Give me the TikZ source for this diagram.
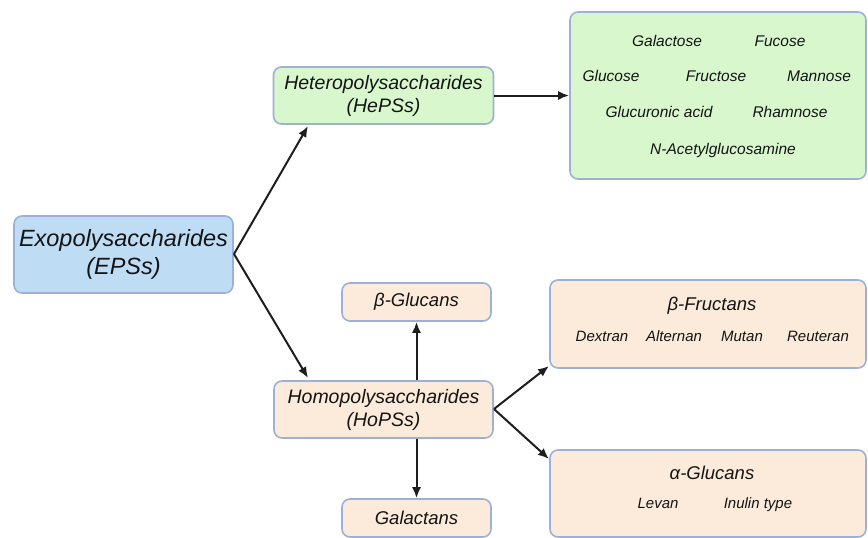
\documentclass[tikz,border=0pt]{standalone}
\usepackage{fontspec}
\setmainfont{Liberation Sans}
\usetikzlibrary{arrows.meta}
\definecolor{bluefill}{HTML}{BEDDF4}
\definecolor{greenfill}{HTML}{D8F7CD}
\definecolor{peachfill}{HTML}{FCEBDA}
\definecolor{edgecol}{HTML}{9DB1D8}
\definecolor{arrowcol}{HTML}{1E1E1E}
\definecolor{txtcol}{HTML}{141414}
\begin{document}
\begin{tikzpicture}[x=1pt,y=-1pt,
  box/.style={draw=edgecol,line width=1.6pt,rounded corners=8pt,inner sep=0pt,align=center,font=\itshape,text=txtcol},
  lbl/.style={inner sep=0pt,anchor=base,text=txtcol,font=\itshape\fontsize{15.5}{18}\selectfont},
  lblb/.style={lbl,font=\itshape\fontsize{15}{18}\selectfont},
  ttl/.style={inner sep=0pt,anchor=base,text=txtcol,font=\itshape\fontsize{18.5}{22}\selectfont},
  conn/.style={draw=arrowcol,line width=2pt,-{Latex[length=11pt,width=9pt]}}]
\useasboundingbox (0,0) rectangle (868,538);
% main nodes
\node[box,fill=bluefill,minimum width=219pt,minimum height=77pt,font=\itshape\fontsize{23.5}{28}\selectfont] (eps) at (123.5,254.5) {Exopolysaccharides\\(EPSs)};
\node[box,fill=greenfill,minimum width=220pt,minimum height=57pt,font=\itshape\fontsize{19.5}{23}\selectfont] (heps) at (383.5,95.5) {Heteropolysaccharides\\(HePSs)};
\node[box,fill=greenfill,minimum width=296pt,minimum height=167pt] (sugars) at (718,95.5) {};
\node[box,fill=peachfill,minimum width=219pt,minimum height=57pt,font=\itshape\fontsize{19.5}{23}\selectfont] (hops) at (383.5,409.5) {Homopolysaccharides\\(HoPSs)};
\node[box,fill=peachfill,minimum width=149pt,minimum height=38pt,font=\itshape\fontsize{18.5}{22}\selectfont] (bglu) at (416.5,302) {β-Glucans};
\node[box,fill=peachfill,minimum width=149pt,minimum height=38pt,font=\itshape\fontsize{18.5}{22}\selectfont] (gal) at (416.5,518) {Galactans};
\node[box,fill=peachfill,minimum width=316pt,minimum height=88pt] (bfru) at (708,324) {};
\node[box,fill=peachfill,minimum width=316pt,minimum height=87pt] (aglu) at (708,493.5) {};
% sugar labels
\node[lbl] (s1) at (667,46.5) {Galactose};
\node[lbl] (s2) at (780,46.5) {Fucose};
\node[lbl] (s3) at (611,81.5) {Glucose};
\node[lbl] (s4) at (716,81.5) {Fructose};
\node[lbl] (s5) at (819,81.5) {Mannose};
\node[lbl] (s6) at (659,117.5) {Glucuronic acid};
\node[lbl] (s7) at (790,117.5) {Rhamnose};
\node[lbl] (s8) at (723,154.5) {N-Acetylglucosamine};
% fructans
\node[ttl] (bt) at (712,310.5) {β-Fructans};
\node[lblb] (f1) at (602,341.5) {Dextran};
\node[lblb] (f2) at (674,341.5) {Alternan};
\node[lblb] (f3) at (742,341.5) {Mutan};
\node[lblb] (f4) at (818,341.5) {Reuteran};
% alpha glucans
\node[ttl] (at) at (712,479.5) {α-Glucans};
\node[lblb] (g1) at (658,508.5) {Levan};
\node[lblb] (g2) at (758,508.5) {Inulin type};
% connectors
\coordinate (epsr) at (234,254);
\draw[conn] (epsr) -- (308,126);
\draw[conn] (epsr) -- (308,378);
\draw[conn] (heps.east) -- (sugars.west |- heps.east);
\draw[conn] (hops.north -| bglu.south) -- (bglu.south);
\draw[conn] (hops.south -| gal.north) -- (gal.north);
\coordinate (hopsr) at (494,409);
\draw[conn] (hopsr) -- (549,366);
\draw[conn] (hopsr) -- (549,459);
\end{tikzpicture}
\end{document}
